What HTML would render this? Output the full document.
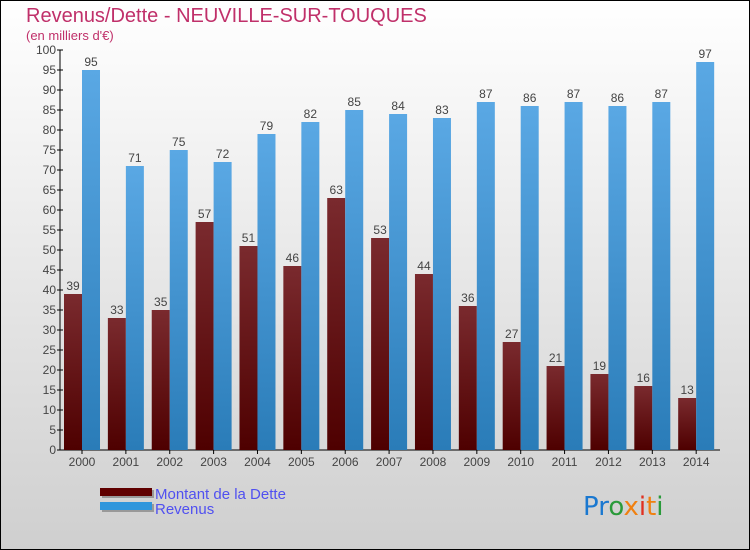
<!DOCTYPE html>
<html><head><meta charset="utf-8"><style>
body{margin:0}
svg{display:block;font-family:"Liberation Sans",sans-serif}
</style></head><body>
<svg width="750" height="550" xmlns="http://www.w3.org/2000/svg">
<defs>
<linearGradient id="bg" x1="0" y1="0" x2="0" y2="1"><stop offset="0" stop-color="#ffffff"/><stop offset="1" stop-color="#cfcfcf"/></linearGradient>
<linearGradient id="gd" x1="0" y1="0" x2="0" y2="1"><stop offset="0" stop-color="#7a2a2e"/><stop offset="1" stop-color="#4e0000"/></linearGradient>
<linearGradient id="gr" x1="0" y1="0" x2="0" y2="1"><stop offset="0" stop-color="#5aa8e4"/><stop offset="1" stop-color="#2a7cb8"/></linearGradient>
</defs>
<rect x="0.5" y="0.5" width="749" height="549" fill="url(#bg)" stroke="#000"/>
<text x="26" y="22" font-size="20" fill="#c0306a">Revenus/Dette - NEUVILLE-SUR-TOUQUES</text>
<text x="26" y="40" font-size="13" fill="#c0306a">(en milliers d'€)</text>
<g id="axes"></g>
<g id="bars"></g>
<g>
<rect x="102" y="490" width="52" height="8" fill="#999"/>
<rect x="100" y="488" width="52" height="8" fill="#600000"/>
<rect x="102" y="504" width="52" height="8" fill="#999"/>
<rect x="100" y="502" width="52" height="8" fill="#2f96dc"/>
<text x="155" y="499" font-size="15" fill="#5050f0">Montant de la Dette</text>
<text x="155" y="514" font-size="15" fill="#5050f0">Revenus</text>
</g>
<g font-size="26" font-family="'DejaVu Sans',sans-serif">
<text x="583" y="515"><tspan fill="#1a78d0">Pr</tspan><tspan fill="#2a9a3a">o</tspan><tspan fill="#f08010">x</tspan><tspan fill="#e03020">i</tspan><tspan fill="#f08010">t</tspan><tspan fill="#2a9a3a">i</tspan></text>
</g>
</svg>
<script>
const years=["2000","2001","2002","2003","2004","2005","2006","2007","2008","2009","2010","2011","2012","2013","2014"];
const dette=[39,33,35,57,51,46,63,53,44,36,27,21,19,16,13];
const revenus=[95,71,75,72,79,82,85,84,83,87,86,87,86,87,97];
const yTicks=[0,5,10,15,20,25,30,35,40,45,50,55,60,65,70,75,80,85,90,95,100];
const NS="http://www.w3.org/2000/svg";
const x0=60,step=43.87,base=450,yMax=100,ph=400;
const y=v=>base-v/yMax*ph;
const cx=i=>x0+22+i*step;
function mk(t,a,p){const e=document.createElementNS(NS,t);for(const k in a)e.setAttribute(k,a[k]);p.appendChild(e);return e;}
const ax=document.getElementById('axes'),bg=document.getElementById('bars');
const yl=mk('line',{x1:x0,y1:y(100),x2:x0,y2:base,stroke:'#000'},ax);


const xl=mk('line',{x1:x0,y1:base,x2:720,y2:base,stroke:'#000'},ax);


yTicks.forEach(v=>{
 mk('line',{x1:x0-3,y1:y(v),x2:x0+3,y2:y(v),stroke:'#000'},ax);
 const t=mk('text',{x:x0-4,y:y(v)+4,'font-size':12,'text-anchor':'end',fill:'#444'},ax);
 t.textContent=v;
 
 
});
years.forEach((yr,i)=>{
 const c=cx(i);
 mk('line',{x1:c,y1:base,x2:c,y2:base+4,stroke:'#000'},ax);
 const t=mk('text',{x:c,y:base+16,'font-size':12,'text-anchor':'middle',fill:'#444'},ax);
 t.textContent=yr;
 
 
 const d=mk('rect',{x:c-18,y:y(dette[i]),width:18,height:base-y(dette[i]),fill:'url(#gd)'},bg);
 
 
 const r=mk('rect',{x:c,y:y(revenus[i]),width:18,height:base-y(revenus[i]),fill:'url(#gr)'},bg);
 
 
 const ld=mk('text',{x:c-9,y:y(dette[i])-4,'font-size':12,'text-anchor':'middle',fill:'#444'},bg);
 ld.textContent=dette[i];
 
 
 const lr=mk('text',{x:c+9,y:y(revenus[i])-4,'font-size':12,'text-anchor':'middle',fill:'#444'},bg);
 lr.textContent=revenus[i];
 
 
});
</script>
</body></html>
